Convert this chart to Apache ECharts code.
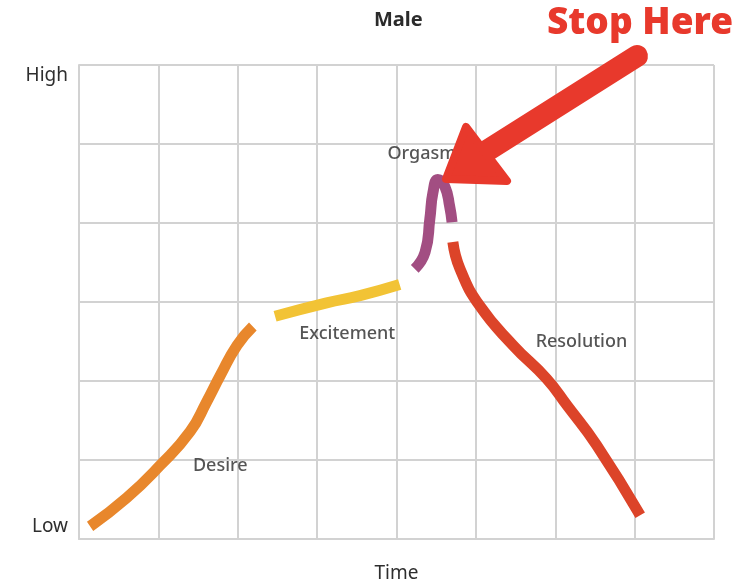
<!DOCTYPE html>
<html><head><meta charset="utf-8">
<script src="https://cdn.jsdelivr.net/npm/echarts@6/dist/echarts.min.js"></script>
<style>html,body{margin:0;padding:0;background:#fff}#c{width:746px;height:588px}</style>
</head><body><div id="c"></div>
<script>
var desireX = [0.14, 0.60, 1.02, 1.40, 1.61, 1.78, 1.99, 2.19];
var desireY = [0.16, 0.52, 0.93, 1.36, 1.74, 2.07, 2.45, 2.69];
var excitementX = [2.47, 3.12, 3.54, 4.04];
var excitementY = [2.82, 2.99, 3.08, 3.22];
var orgasmX = [4.23, 4.36, 4.42, 4.46, 4.52, 4.61, 4.67, 4.70];
var orgasmY = [3.42, 3.63, 4.05, 4.39, 4.55, 4.46, 4.21, 4.01];
var resolutionX = [4.71, 4.80, 5.05, 5.47, 5.89, 6.15, 6.52, 7.07];
var resolutionY = [3.76, 3.42, 2.95, 2.45, 2.03, 1.69, 1.19, 0.30];
var phaseNames = ['Desire', 'Excitement', 'Orgasm', 'Resolution'];
var phaseLabelX = [1.78, 3.38, 4.32, 6.33];
var phaseLabelY = [0.92, 2.60, 4.87, 2.50];
var yTickLabels = {0: 'Low', 6: 'High'};

function pairs(xs, ys){ return xs.map(function(x,i){ return [x, ys[i]]; }); }
var FONT = '"Noto Sans", sans-serif';
function seg(name, xs, ys, color){
  return {
    name: name, type: 'line', smooth: 0.5, showSymbol: false, symbol: 'none',
    data: pairs(xs, ys),
    lineStyle: { color: color, width: 11, cap: 'butt' },
    z: 3, silent: true
  };
}
var chart = echarts.init(document.getElementById('c'));
chart.setOption({
  animation: false,
  backgroundColor: '#ffffff',
  title: { text: 'Male', left: 369, top: 5,
    textStyle: { fontFamily: FONT, fontSize: 20, fontWeight: 'bold', color: '#2b2b2b' } },
  grid: { left: 79, right: 32, top: 65, bottom: 47 },
  xAxis: {
    type: 'value', min: 0, max: 8, interval: 1,
    name: 'Time', nameLocation: 'middle', nameGap: 25,
    nameTextStyle: { fontFamily: FONT, fontSize: 19, color: '#2e2e2e' },
    axisLine: { show: true, lineStyle: { color: '#d2d2d2', width: 2 } },
    axisTick: { show: false }, axisLabel: { show: false },
    splitLine: { show: true, lineStyle: { color: '#d2d2d2', width: 2 } }
  },
  yAxis: {
    type: 'value', min: 0, max: 6, interval: 1,
    axisLine: { show: true, lineStyle: { color: '#d2d2d2', width: 2 } },
    axisTick: { show: false },
    axisLabel: {
      margin: 11,
      formatter: function(v){
        if (v === 0) return '{low|' + yTickLabels[0] + '}';
        if (v === 6) return '{high|' + yTickLabels[6] + '}';
        return '';
      },
      rich: {
        low: { fontFamily: FONT, fontSize: 19, color: '#2e2e2e', padding: [0,0,24,0] },
        high: { fontFamily: FONT, fontSize: 19, color: '#2e2e2e', padding: [22,0,0,0] }
      }
    },
    splitLine: { show: true, lineStyle: { color: '#d2d2d2', width: 2 } }
  },
  series: [
    seg('Desire', desireX, desireY, '#E8872C'),
    seg('Excitement', excitementX, excitementY, '#F2C335'),
    seg('Orgasm', orgasmX, orgasmY, '#A24E82'),
    seg('Resolution', resolutionX, resolutionY, '#DC4429'),
    {
      type: 'scatter', symbolSize: 0, silent: true, z: 2,
      data: phaseNames.map(function(n,i){ return { value: [phaseLabelX[i], phaseLabelY[i]], name: n }; }),
      label: { show: true, position: 'inside', formatter: '{b}',
        fontFamily: FONT, fontSize: 18, fontWeight: 500, color: '#2a2a2a' }
    }
  ],
  graphic: [
    { type: 'text', left: 547, top: 5, z: 100,
      style: { text: 'Stop Here', fontFamily: FONT, fontSize: 37, fontWeight: 900, fill: '#E8392C' } },
    { type: 'line', z: 100,
      shape: { x1: 637, y1: 56, x2: 485, y2: 152 },
      style: { stroke: '#E8392C', lineWidth: 22, lineCap: 'round' } },
    { type: 'polygon', z: 100,
      shape: { points: [[446, 179], [466, 127], [507, 181]] },
      style: { fill: '#E8392C', stroke: '#E8392C', lineWidth: 8, lineJoin: 'round' } }
  ]
});
</script>
</body></html>
